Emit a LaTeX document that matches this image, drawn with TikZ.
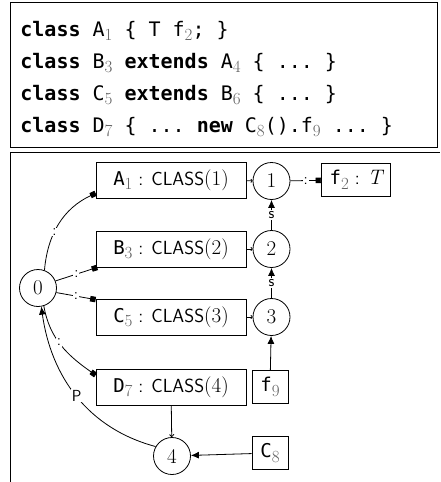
\documentclass[tikz,border=0pt]{standalone}
\usepackage{fontspec}
\setmonofont{DejaVu Sans Mono}
\usetikzlibrary{arrows.meta}
\definecolor{idxgray}{gray}{0.38}
% grey serif index after an identifier
\newcommand\ix[1]{\raisebox{-4.5pt}{\textcolor{idxgray}{\fontsize{17}{17}\selectfont\rmfamily #1}}}
\newcommand\kw[1]{\textbf{#1}}
% serif text used for numbers and type names
\newcommand\serif[1]{{\fontsize{21}{23}\selectfont\rmfamily #1}}
\begin{document}
\begin{tikzpicture}[x=1pt,y=-1pt,
  codeline/.style={anchor=base west,inner sep=0pt,font=\fontsize{20}{22}\selectfont\ttfamily},
  objbox/.style={draw,rectangle,minimum height=36pt,inner sep=2pt,font=\fontsize{19}{21}\selectfont\sffamily},
  state/.style={draw,circle,minimum size=37pt,inner sep=0pt,font=\fontsize{21}{23}\selectfont\rmfamily},
  elabel/.style={fill=white,inner sep=1pt,font=\fontsize{16}{17}\selectfont\sffamily},
  typed/.style={-{Square[length=5.5pt,width=5.5pt]}},
  super/.style={-{Latex[length=8pt,width=7pt]}},
  link/.style={-{To[length=2pt,width=4pt]}},
  line width=0.8pt]
\useasboundingbox (0,0) rectangle (440,482);

% source listing
\draw (10,2) rectangle (437,147);
\node[codeline] (l1) at (20,36) {\kw{class} A\ix{1} \{ T f\ix{2}; \}};
\node[codeline] (l2) at (20,68) {\kw{class} B\ix{3} \kw{extends} A\ix{4} \{ ... \}};
\node[codeline] (l3) at (20,100) {\kw{class} C\ix{5} \kw{extends} B\ix{6} \{ ... \}};
\node[codeline] (l4) at (20,132) {\kw{class} D\ix{7} \{ ... \kw{new} C\ix{8}().f\ix{9} ... \}};

% graph frame
\draw (10,482) -- (10,152) -- (440,152);

% class objects
\node[objbox,minimum width=150pt] (A1) at (171,180) {\texttt{A}\ix{1} : CLASS\serif{(1)}};
\node[objbox,minimum width=150pt] (B3) at (171,249) {\texttt{B}\ix{3} : CLASS\serif{(2)}};
\node[objbox,minimum width=150pt] (C5) at (171,317) {\texttt{C}\ix{5} : CLASS\serif{(3)}};
\node[objbox,minimum width=150pt] (D7) at (171,387) {\texttt{D}\ix{7} : CLASS\serif{(4)}};

% states
\node[state] (s0) at (38,288) {0};
\node[state] (s1) at (271.5,181) {1};
\node[state] (s2) at (271.5,249) {2};
\node[state] (s3) at (271.5,317) {3};
\node[state] (s4) at (172,456) {4};

% fields and expressions
\node[objbox,minimum width=69pt,minimum height=33pt] (f2) at (356,180) {\texttt{f}\ix{2} : \serif{\itshape T}};
\node[objbox,minimum width=36pt,minimum height=33pt] (f9) at (270,387) {\texttt{f}\ix{9}};
\node[objbox,minimum width=36pt,minimum height=33pt] (C8) at (270,453) {\texttt{C}\ix{8}};

% object to state links
\draw[link] (A1) -- (s1);
\draw[link] (B3) -- (s2);
\draw[link] (C5) -- (s3);

% typing edges from state 0
\draw[typed] (s0.70) to[out=85,in=205] node[elabel,pos=0.4] {:} (A1.190);
\draw[typed] (s0.22) -- node[elabel] {:} (B3.194);
\draw[typed] (s0.-14) -- node[elabel] {:} (C5.167);
\draw[typed] (s0.-72) to[out=-80,in=145] node[elabel,pos=0.45] {:} (D7.171);
\draw[typed] (s1) -- node[elabel] {:} (f2);

% supertype edges
\draw[super] (s2) -- node[elabel] {s} (s1);
\draw[super] (s3) -- node[elabel] {s} (s2);

% expression edges
\draw[super] (f9) -- (s3);
\draw[super] (C8) -- (s4);
\draw[-{To[length=3pt,width=5pt]}] (D7) -- (s4);
\draw[super] (s4.150) to[out=165,in=-82] node[elabel,pos=0.5] {P} (s0.-80);
\end{tikzpicture}
\end{document}
